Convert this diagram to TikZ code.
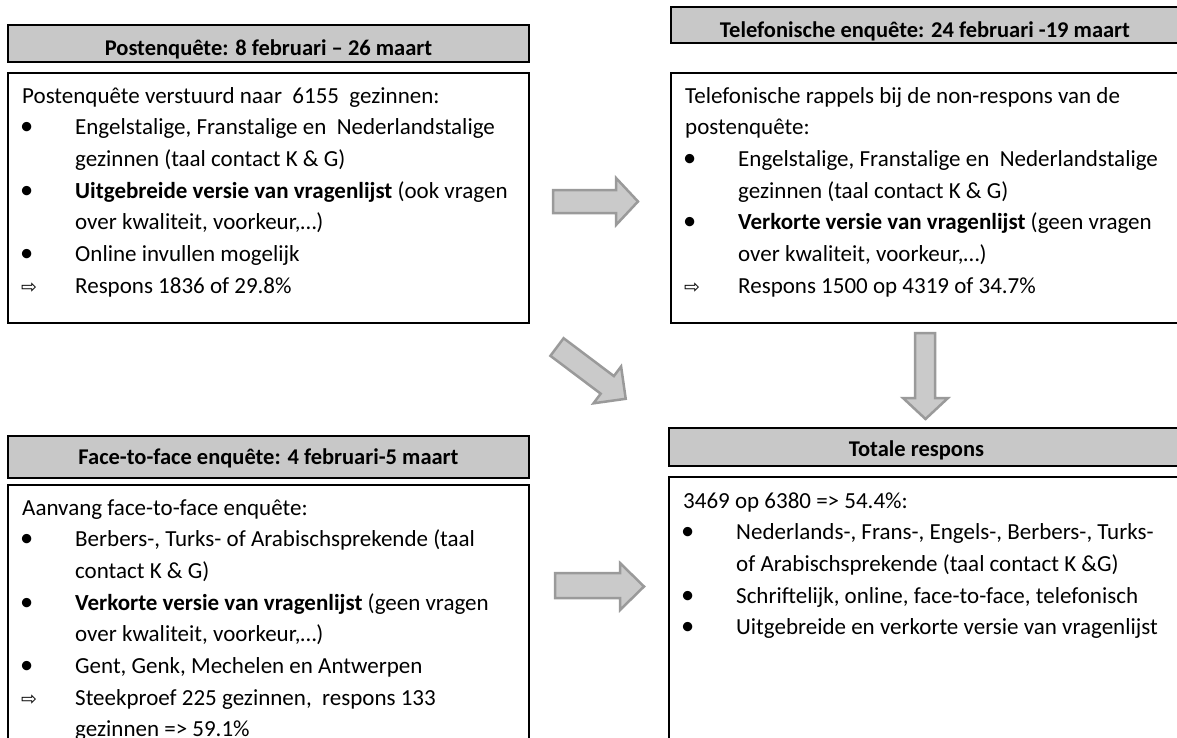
\documentclass[tikz,border=0pt]{standalone}
\usepackage{fontspec}
\setmainfont{Carlito}
\newfontfamily\djv{DejaVu Sans}
\definecolor{hdrfill}{HTML}{C8C8C8}
\definecolor{arrfill}{HTML}{CACACA}
\definecolor{arrline}{HTML}{9A9A9A}
\newcommand\bul{\makebox[53pt][l]{\hspace{-2pt}\scalebox{1.15}{\textbullet}}}
\newcommand\arr{\makebox[53pt][l]{\hspace{-1pt}\djv\fontsize{19}{19}\selectfont ⇨}}
\newcommand\ind{\hspace*{53pt}}
\newcommand\bodytext[1]{\parbox[t]{520pt}{\fontsize{23}{31.7}\selectfont #1}}
\begin{document}
\begin{tikzpicture}[x=1pt,y=-1pt,
  hdr/.style={draw=black, line width=2pt, fill=hdrfill, inner sep=0pt, outer sep=0pt, anchor=north west},
  box/.style={draw=black, line width=2pt, fill=white, inner sep=0pt, outer sep=0pt, anchor=north west},
  hdrtext/.style={anchor=base, inner sep=0pt, font=\fontsize{22.5}{27}\selectfont\bfseries},
  txt/.style={anchor=base west, inner sep=0pt},
  blk/.style={draw=arrline, fill=arrfill, line width=2.5pt, line join=miter}]
\useasboundingbox (0,0) rectangle (1177,737);
% headers and boxes
\node[hdr, minimum width=521pt, minimum height=37pt] (ph) at (8,25) {};
\node[box, minimum width=521pt, minimum height=250pt] (pb) at (8,73) {};
\node[hdr, minimum width=508pt, minimum height=36pt] (th) at (671,7) {};
\node[box, minimum width=508pt, minimum height=250pt] (tb) at (671,73) {};
\node[hdr, minimum width=521pt, minimum height=42pt] (fh) at (8,436) {};
\node[box, minimum width=521pt, minimum height=280pt] (fb) at (8,485) {};
\node[hdr, minimum width=520pt, minimum height=38pt] (rh) at (669,428) {};
\node[box, minimum width=520pt, minimum height=290pt] (rb) at (669,477) {};
% header texts
\node[hdrtext] (pht) at (268.5,55) {Postenquête: 8 februari – 26 maart};
\node[hdrtext] (tht) at (925,37.5) {Telefonische enquête: 24 februari -19 maart};
\node[hdrtext] (fht) at (268.5,464) {Face-to-face enquête: 4 februari-5 maart};
\node[hdrtext] (rht) at (916.5,456) {Totale respons};
% body texts
\node[txt] (pbt) at (22,103) {\bodytext{%
Postenquête verstuurd naar\ \ 6155\ \ gezinnen:\\
\bul Engelstalige, Franstalige en\ \ Nederlandstalige\\
\ind gezinnen (taal contact K \& G)\\
\bul \textbf{Uitgebreide versie van vragenlijst} (ook vragen\\
\ind over kwaliteit, voorkeur,…)\\
\bul Online invullen mogelijk\\
\arr Respons 1836 of 29.8\%}};
\node[txt] (tbt) at (685,103) {\bodytext{%
Telefonische rappels bij de non-respons van de\\
postenquête:\\
\bul Engelstalige, Franstalige en\ \ Nederlandstalige\\
\ind gezinnen (taal contact K \& G)\\
\bul \textbf{Verkorte versie van vragenlijst} (geen vragen\\
\ind over kwaliteit, voorkeur,…)\\
\arr Respons 1500 op 4319 of 34.7\%}};
\node[txt] (fbt) at (22,515) {\bodytext{%
Aanvang face-to-face enquête:\\
\bul Berbers-, Turks- of Arabischsprekende (taal\\
\ind contact K \& G)\\
\bul \textbf{Verkorte versie van vragenlijst} (geen vragen\\
\ind over kwaliteit, voorkeur,…)\\
\bul Gent, Genk, Mechelen en Antwerpen\\
\arr Steekproef 225 gezinnen,\ \ respons 133\\
\ind gezinnen => 59.1\%}};
\node[txt] (rbt) at (683,508) {\bodytext{%
3469 op 6380 => 54.4\%:\\
\bul Nederlands-, Frans-, Engels-, Berbers-, Turks-\\
\ind of Arabischsprekende (taal contact K \&G)\\
\bul Schriftelijk, online, face-to-face, telefonisch\\
\bul Uitgebreide en verkorte versie van vragenlijst}};
% block arrows
\draw[blk] (553,190) -- (616,190) -- (616,178) -- (638,201.5) -- (616,225) -- (616,213) -- (553,213) -- cycle;
\draw[blk] (563.6,338.2) -- (613.9,376.1) -- (621.1,366.5) -- (625.7,398.8) -- (593.5,403.3) -- (600.7,393.7) -- (550.4,355.8) -- cycle;
\draw[blk] (915,333) -- (935,333) -- (935,398) -- (948,398) -- (925.5,419) -- (903,398) -- (915,398) -- cycle;
\draw[blk] (555,573) -- (620,573) -- (620,563) -- (644,586.5) -- (620,610) -- (620,598) -- (555,598) -- cycle;
\end{tikzpicture}
\end{document}
